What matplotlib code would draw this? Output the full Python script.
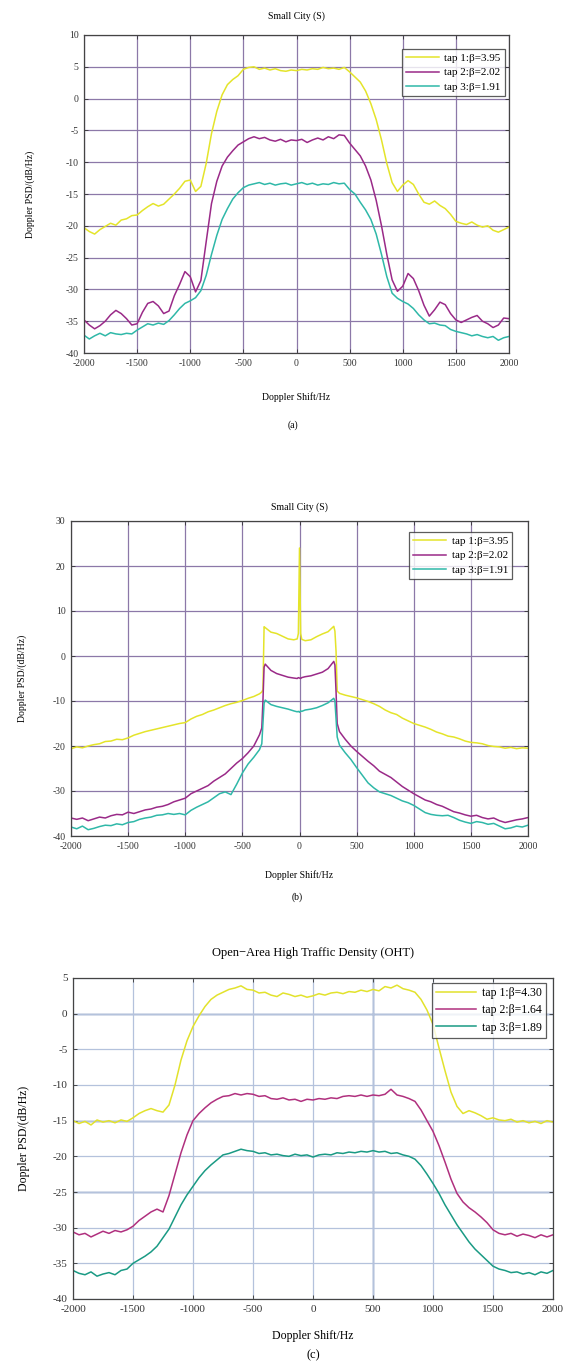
import numpy as np
import matplotlib
matplotlib.use("Agg")
import matplotlib.pyplot as plt

plt.rcParams['font.family'] = ['Liberation Serif', 'DejaVu Serif']
plt.rcParams['axes.unicode_minus'] = False

# ---------------- data ----------------
freq_a = list(range(-2000, 2001, 50))
tap1_a = [-20.3, -20.9, -21.3, -20.6, -20.1, -19.6, -19.9, -19.1, -18.9, -18.4,
          -18.3, -17.6, -17.0, -16.5, -16.9, -16.6, -15.8, -15.0, -14.1, -13.0,
          -12.8, -14.6, -13.8, -10.2, -5.5, -2.0, 0.6, 2.2, 3.0, 3.6,
          4.6, 4.9, 5.0, 4.6, 4.8, 4.5, 4.7, 4.4, 4.3, 4.5,
          4.4, 4.6, 4.5, 4.7, 4.6, 4.9, 4.7, 4.8, 4.6, 4.9,
          4.2, 3.4, 2.6, 1.2, -0.8, -3.3, -6.5, -10.2, -13.2, -14.6,
          -13.6, -12.9, -13.5, -15.0, -16.3, -16.6, -16.1, -16.8, -17.3, -18.2,
          -19.3, -19.6, -19.8, -19.4, -19.9, -20.2, -20.0, -20.7, -21.0, -20.6,
          -20.2]
tap2_a = [-34.8, -35.6, -36.2, -35.7, -35.0, -34.0, -33.3, -33.8, -34.6, -35.6,
          -35.4, -33.6, -32.2, -31.9, -32.6, -33.8, -33.4, -31.0, -29.2, -27.2,
          -28.0, -30.4, -28.6, -22.5, -16.5, -13.0, -10.6, -9.2, -8.2, -7.3,
          -6.8, -6.3, -6.0, -6.3, -6.1, -6.5, -6.7, -6.4, -6.8, -6.5,
          -6.6, -6.4, -6.9, -6.5, -6.2, -6.5, -6.0, -6.3, -5.7, -5.8,
          -7.0, -8.0, -9.0, -10.6, -12.8, -16.0, -20.0, -24.5, -28.5, -30.3,
          -29.5, -27.5, -28.3, -30.2, -32.5, -34.2, -33.2, -32.0, -32.4, -33.8,
          -34.8, -35.2, -34.8, -34.4, -34.1, -35.0, -35.4, -36.0, -35.6, -34.5,
          -34.6]
tap3_a = [-37.2, -37.8, -37.3, -36.9, -37.3, -36.8, -37.0, -37.1, -36.9, -37.0,
          -36.4, -35.9, -35.4, -35.6, -35.3, -35.5, -34.9, -34.0, -33.0, -32.2,
          -31.8, -31.3, -30.2, -27.8, -24.5, -21.5, -19.0, -17.3, -15.8, -14.8,
          -14.0, -13.6, -13.4, -13.2, -13.5, -13.3, -13.6, -13.4, -13.3, -13.6,
          -13.4, -13.2, -13.5, -13.3, -13.6, -13.4, -13.5, -13.2, -13.4, -13.3,
          -14.3, -15.0, -16.3, -17.5, -19.0, -21.3, -24.5, -28.0, -30.6, -31.4,
          -31.9, -32.3, -33.0, -34.0, -34.8, -35.4, -35.3, -35.6, -35.7, -36.3,
          -36.6, -36.8, -37.0, -37.3, -37.1, -37.4, -37.6, -37.4, -38.0, -37.6,
          -37.4]

freq_b = (list(range(-2000, -399, 50)) +
          [-350, -330, -320, -310, -300, -250, -200, -150, -100, -50, -20, -10, 0,
           10, 20, 50, 100, 150, 200, 250, 300, 310, 320, 330, 350] +
          list(range(400, 2001, 50)))
tap1_b = [-20.6, -20.2, -20.4, -20.0, -19.7, -19.5, -19.0, -18.9, -18.5, -18.6,
          -18.2, -17.6, -17.2, -16.8, -16.5, -16.2, -15.9, -15.6, -15.3, -15.0,
          -14.8, -14.0, -13.4, -13.0, -12.4, -12.0, -11.5, -11.0, -10.6, -10.3,
          -9.9, -9.4, -9.0,
          -8.4, -8.0, -7.5, 6.5, 6.3, 5.3, 5.0, 4.4, 3.8, 3.6, 3.8, 5.0, 24.0,
          5.0, 3.7, 3.4, 3.6, 4.3, 4.9, 5.4, 6.6, 5.5, 1.0, -7.8, -8.3,
          -8.7, -9.0, -9.3, -9.7, -10.1, -10.6, -11.2, -12.0, -12.6, -13.0,
          -13.8, -14.4, -15.0, -15.4, -15.8, -16.3, -16.9, -17.3, -17.8, -18.0,
          -18.4, -18.9, -19.2, -19.3, -19.5, -19.9, -20.1, -20.2, -20.5, -20.3,
          -20.6, -20.4, -20.5]
tap2_b = [-36.0, -36.3, -36.0, -36.6, -36.2, -35.8, -36.0, -35.5, -35.2, -35.3,
          -34.7, -35.0, -34.6, -34.2, -34.0, -33.6, -33.4, -33.0, -32.4, -32.0,
          -31.6, -30.6, -30.0, -29.4, -28.8, -27.8, -27.0, -26.2, -25.0, -23.8,
          -22.8, -21.5, -20.0,
          -17.5, -16.0, -10.0, -2.5, -1.8, -3.2, -3.9, -4.3, -4.7, -4.9, -5.0, -4.8, -4.9,
          -5.0, -4.8, -4.6, -4.4, -4.0, -3.6, -2.8, -1.2, -2.0, -8.0, -15.0, -16.8,
          -18.5, -20.0, -21.2, -22.3, -23.4, -24.4, -25.6, -26.3, -27.0, -28.0,
          -29.0, -29.8, -30.6, -31.3, -32.0, -32.4, -33.0, -33.4, -34.0, -34.6,
          -34.9, -35.3, -35.6, -35.4, -35.9, -36.2, -36.0, -36.6, -37.0, -36.7,
          -36.4, -36.2, -35.9]
tap3_b = [-38.0, -38.4, -37.8, -38.6, -38.3, -37.9, -37.6, -37.7, -37.3, -37.5,
          -37.0, -36.8, -36.3, -36.0, -35.8, -35.4, -35.3, -35.0, -35.2, -35.0,
          -35.3, -34.3, -33.6, -33.0, -32.4, -31.5, -30.6, -30.2, -30.8, -28.5,
          -26.0, -24.0, -22.5,
          -20.8, -19.5, -15.0, -10.5, -9.8, -10.8, -11.2, -11.5, -11.8, -12.2, -12.4, -12.3, -12.5,
          -12.2, -12.3, -12.0, -11.8, -11.5, -11.0, -10.4, -9.4, -10.0, -14.0, -18.0, -19.8,
          -21.5, -23.0, -24.8, -26.5, -28.2, -29.3, -30.2, -30.6, -31.0, -31.6,
          -32.2, -32.6, -33.2, -34.0, -34.8, -35.2, -35.4, -35.5, -35.4, -35.9,
          -36.5, -36.9, -37.2, -36.8, -37.0, -37.4, -37.2, -37.8, -38.4, -38.2,
          -37.8, -38.0, -37.6]

freq_c = list(range(-2000, 2001, 50))
tap1_c = [-15.0, -15.4, -15.1, -15.6, -14.9, -15.2, -15.0, -15.3, -14.9, -15.1,
          -14.6, -14.0, -13.6, -13.3, -13.6, -13.8, -12.8, -10.0, -6.5, -3.8,
          -1.8, -0.3, 1.0, 2.0, 2.6, 3.0, 3.4, 3.6, 3.9, 3.4,
          3.3, 2.9, 3.0, 2.6, 2.4, 2.9, 2.7, 2.4, 2.6, 2.3,
          2.5, 2.8, 2.6, 2.9, 3.0, 2.8, 3.1, 3.0, 3.3, 3.1,
          3.4, 3.2, 3.8, 3.6, 4.0, 3.5, 3.3, 3.0, 2.0, 0.5,
          -1.5, -4.8, -8.0, -11.0, -13.0, -14.0, -13.6, -13.9, -14.3, -14.8,
          -14.6, -14.9, -15.0, -14.8, -15.2, -15.0, -15.3, -15.1, -15.4, -15.0,
          -15.2]
tap2_c = [-30.6, -31.0, -30.8, -31.3, -30.9, -30.5, -30.8, -30.4, -30.6, -30.3,
          -29.8, -29.0, -28.4, -27.8, -27.4, -27.8, -25.5, -22.5, -19.5, -17.0,
          -15.0, -14.0, -13.2, -12.5, -12.0, -11.6, -11.5, -11.2, -11.4, -11.2,
          -11.3, -11.6, -11.5, -11.9, -12.0, -11.8, -12.1, -12.0, -12.3, -12.0,
          -12.1, -11.9, -12.0, -11.8, -11.9, -11.6, -11.5, -11.6, -11.4, -11.6,
          -11.4, -11.5, -11.3, -10.6, -11.4, -11.6, -11.9, -12.3, -13.5, -15.0,
          -16.5, -18.5, -20.8, -23.2, -25.2, -26.4, -27.2, -27.8, -28.5, -29.3,
          -30.3, -30.8, -31.0, -30.8, -31.2, -30.9, -31.1, -31.4, -31.0, -31.3,
          -31.0]
tap3_c = [-36.0, -36.4, -36.6, -36.2, -36.8, -36.5, -36.3, -36.6, -36.0, -35.8,
          -35.0, -34.5, -34.0, -33.4, -32.6, -31.4, -30.2, -28.5, -26.8, -25.4,
          -24.2, -23.0, -22.0, -21.2, -20.5, -19.8, -19.6, -19.3, -19.0, -19.2,
          -19.3, -19.6, -19.5, -19.8, -19.7, -19.9, -20.0, -19.7, -19.9, -19.8,
          -20.1, -19.8, -19.7, -19.8, -19.5, -19.6, -19.4, -19.5, -19.3, -19.4,
          -19.2, -19.4, -19.3, -19.6, -19.5, -19.8, -20.0, -20.4, -21.3, -22.5,
          -23.8, -25.2, -26.8, -28.2, -29.6, -30.8, -32.0, -33.0, -33.8, -34.6,
          -35.4, -35.8, -36.0, -36.3, -36.2, -36.5, -36.3, -36.6, -36.2, -36.4,
          -36.0]

labels_ab = ["tap 1:β=3.95", "tap 2:β=2.02", "tap 3:β=1.91"]
labels_c = ["tap 1:β=4.30", "tap 2:β=1.64", "tap 3:β=1.89"]
xticks = [-2000, -1500, -1000, -500, 0, 500, 1000, 1500, 2000]

# ---------------- figure ----------------
W, H = 563, 1365
fig = plt.figure(figsize=(W / 100, H / 100), dpi=100)
fig.patch.set_facecolor("white")


def rect(l, t, r, b):
    return [l / W, 1 - b / H, (r - l) / W, (b - t) / H]


def style(ax, ylim, yticks, gcol, fs):
    ax.set_xlim(-2000, 2000)
    ax.set_ylim(*ylim)
    ax.set_xticks(xticks)
    ax.set_yticks(yticks)
    ax.tick_params(direction="in", labelsize=fs, length=3, width=0.6,
                   top=True, right=True, colors="#333333", pad=4)
    ax.grid(True, color=gcol, linewidth=0.9)
    ax.set_axisbelow(True)
    for s in ax.spines.values():
        s.set_color("#444444")
        s.set_linewidth(0.9)


def legend(ax, anchor, fs, hl):
    lg = ax.legend(loc="upper right", bbox_to_anchor=anchor, fontsize=fs,
                   frameon=True, fancybox=False, edgecolor="#333333",
                   handlelength=hl, borderpad=0.35, labelspacing=0.45,
                   handletextpad=0.5, borderaxespad=0.0)
    lg.get_frame().set_linewidth(0.9)
    return lg


col_a = ["#e4e42a", "#9a2a88", "#2fb8a8"]
col_c = ["#e2e22c", "#b0307e", "#1a9a84"]

# Panel (a)
ax1 = fig.add_axes(rect(84, 35, 509, 353))
style(ax1, (-40, 10), list(range(-40, 11, 5)), "#8c78a8", 7)
for y, c, lab in zip([tap1_a, tap2_a, tap3_a], col_a, labels_ab):
    ax1.plot(freq_a, y, color=c, lw=1.1, label=lab)
ax1.set_title("Small City (S)", fontsize=7, pad=12)
ax1.set_ylabel("Doppler PSD/(dB/Hz)", fontsize=7, labelpad=22)
ax1.set_xlabel("Doppler Shift/Hz", fontsize=7, labelpad=18)
legend(ax1, (0.99, 0.956), 8, 3.0)
fig.text(293 / W, 1 - 425 / H, "(a)", ha="center", va="center", fontsize=7)

# Panel (b)
ax2 = fig.add_axes(rect(71, 521, 528, 836))
style(ax2, (-40, 30), list(range(-40, 31, 10)), "#8c78a8", 7)
for y, c, lab in zip([tap1_b, tap2_b, tap3_b], col_a, labels_ab):
    ax2.plot(freq_b, y, color=c, lw=1.1, label=lab)
ax2.set_title("Small City (S)", fontsize=7, pad=8)
ax2.set_ylabel("Doppler PSD/(dB/Hz)", fontsize=7, labelpad=18)
ax2.set_xlabel("Doppler Shift/Hz", fontsize=7, labelpad=14)
lg = legend(ax2, (0.965, 0.965), 8, 3.0)
lg.set_zorder(5)
fig.text(297 / W, 1 - 897 / H, "(b)", ha="center", va="center", fontsize=7)

# Panel (c)
ax3 = fig.add_axes(rect(73, 978, 553, 1299))
style(ax3, (-40, 5), list(range(-40, 6, 5)), "#b4c2dc", 8)
for yv in [0, -15, -25]:
    ax3.axhline(yv, color="#4f6fa8", lw=1.0, zorder=0.5)
ax3.axvline(500, color="#4f6fa8", lw=1.0, zorder=0.5)
for y, c, lab in zip([tap1_c, tap2_c, tap3_c], col_c, labels_c):
    ax3.plot(freq_c, y, color=c, lw=1.1, label=lab)
ax3.set_title("Open\u2212Area High Traffic Density (OHT)", fontsize=9, pad=16)
ax3.set_ylabel("Doppler PSD/(dB/Hz)", fontsize=8.5, labelpad=16)
ax3.set_xlabel("Doppler Shift/Hz", fontsize=8.5, labelpad=12)
legend(ax3, (0.985, 0.985), 8.5, 3.4)
fig.text(313 / W, 1 - 1355 / H, "(c)", ha="center", va="center", fontsize=9)

fig.savefig("out.png", dpi=100, facecolor="white")
